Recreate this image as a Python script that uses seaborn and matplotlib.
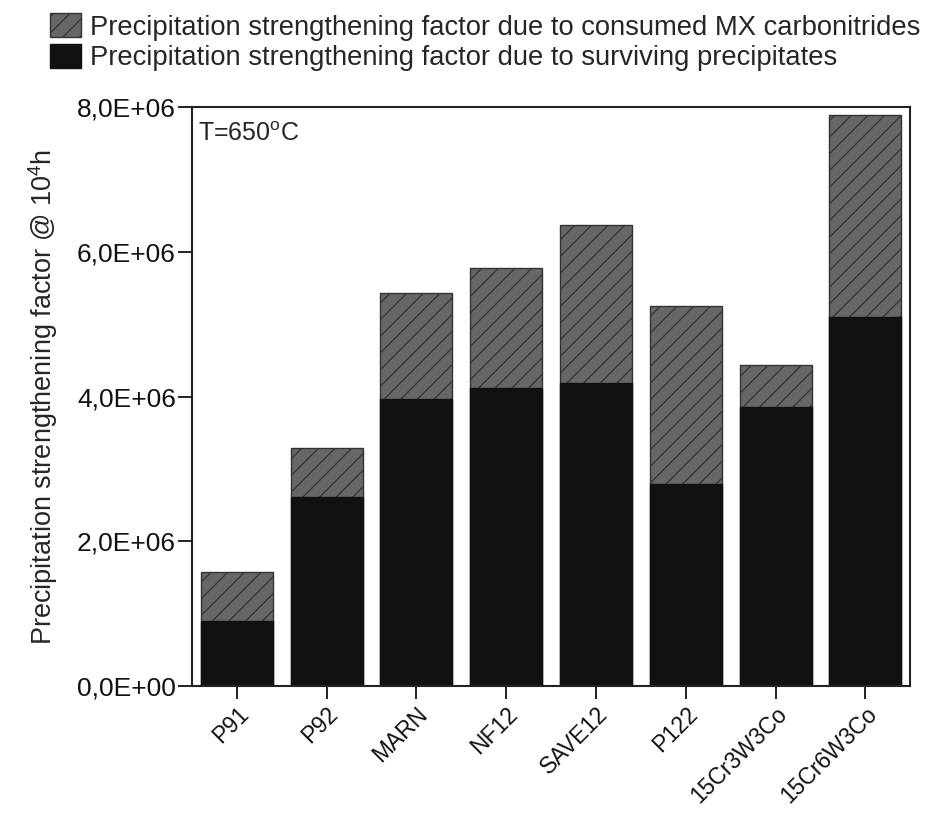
import numpy as np
import pandas as pd
import seaborn as sns
import matplotlib
matplotlib.use("Agg")
import matplotlib.pyplot as plt
from matplotlib.patches import Patch
from matplotlib.ticker import FuncFormatter, MultipleLocator

# Steel grades and precipitation strengthening factors at 10^4 h, 650 °C
steels = ["P91", "P92", "MARN", "NF12", "SAVE12", "P122", "15Cr3W3Co", "15Cr6W3Co"]
surviving = [0.90e6, 2.61e6, 3.97e6, 4.12e6, 4.19e6, 2.80e6, 3.86e6, 5.10e6]
consumed = [0.675e6, 0.68e6, 1.46e6, 1.66e6, 2.19e6, 2.45e6, 0.58e6, 2.80e6]

label_consumed = "Precipitation strengthening factor due to consumed MX carbonitrides"
label_surviving = "Precipitation strengthening factor due to surviving precipitates"

df = pd.DataFrame({"steel": steels, "surviving": surviving, "consumed": consumed})
df["total"] = df["surviving"] + df["consumed"]

sns.set_style("ticks")
plt.rcParams["font.family"] = ["Liberation Sans", "DejaVu Sans"]
plt.rcParams["mathtext.fontset"] = "custom"
plt.rcParams["mathtext.rm"] = "Liberation Sans"
plt.rcParams["mathtext.it"] = "Liberation Sans:italic"
plt.rcParams["hatch.linewidth"] = 0.9

fig = plt.figure(figsize=(9.27, 8.13), dpi=100)
ax = fig.add_axes([0.207, 0.156, 0.775, 0.712])

gray = "#676767"
black = "#111111"
hatch_edge = "#333333"

# Stacked bars: full height (hatched) first, surviving part drawn over it
sns.barplot(data=df, x="steel", y="total", color=gray, saturation=1,
            width=0.8, edgecolor=hatch_edge, linewidth=1.0, hatch="//", ax=ax)
sns.barplot(data=df, x="steel", y="surviving", color=black, saturation=1,
            width=0.8, edgecolor=black, linewidth=1.0, ax=ax)

ax.set_xlim(-0.5, len(steels) - 0.5)
ax.set_ylim(0, 8e6)
ax.yaxis.set_major_locator(MultipleLocator(2e6))


def sci_comma(v, pos):
    if v == 0:
        return "0,0E+00"
    exp = int(np.floor(np.log10(abs(v))))
    mant = v / 10 ** exp
    return f"{mant:.1f}".replace(".", ",") + f"E+{exp:02d}"


ax.yaxis.set_major_formatter(FuncFormatter(sci_comma))

for s in ax.spines.values():
    s.set_visible(True)
    s.set_linewidth(1.5)
    s.set_color("#222222")

ax.tick_params(axis="y", direction="out", length=10, width=1.4, labelsize=19, pad=1.5, colors="#222222", labelcolor="#111111")
ax.tick_params(axis="x", direction="out", length=9, width=1.4, labelsize=16.5, pad=3, colors="#222222", labelcolor="#111111")
plt.setp(ax.get_xticklabels(), rotation=45, ha="right", rotation_mode="anchor")

ax.set_xlabel("")
ax.set_ylabel("Precipitation strengthening factor @ 10$^{4}$h", fontsize=19.5, labelpad=12)

ax.text(0.008, 0.975, "T=650$^{\\mathrm{o}}$C", transform=ax.transAxes,
        fontsize=18, va="top", ha="left")

handles = [
    Patch(facecolor=gray, edgecolor=hatch_edge, hatch="//", linewidth=1.0, label=label_consumed),
    Patch(facecolor=black, edgecolor=black, linewidth=1.0, label=label_surviving),
]
fig.legend(handles=handles, loc="upper left", bbox_to_anchor=(0.045, 0.994),
           frameon=False, fontsize=19.7, handlelength=1.15, handleheight=0.98,
           handletextpad=0.3, labelspacing=0.12, borderaxespad=0.0, borderpad=0.3)

fig.savefig("out.png", dpi=100, facecolor="white")
